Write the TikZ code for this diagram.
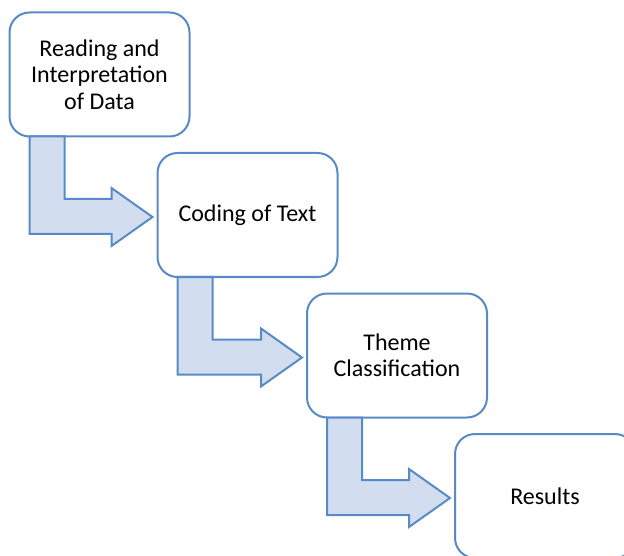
\documentclass[tikz,border=0pt]{standalone}
\usepackage{fontspec}
\setmainfont{Carlito}
\usetikzlibrary{calc}
\definecolor{boxblue}{RGB}{88,138,198}
\definecolor{arrowfill}{RGB}{210,222,239}
\tikzset{
  stagebox/.style={draw=boxblue, line width=2pt, fill=white, rounded corners=20pt,
    minimum width=180pt, minimum height=124pt, align=center, inner sep=0pt,
    font=\fontsize{24}{26.5}\selectfont, text=black},
  bentarrow/.style={draw=boxblue, line width=2pt, fill=arrowfill, line join=miter}
}
\newcommand{\bentarr}[2]{%
  \draw[bentarrow] ($(#1.south west)+(21,-1)$) |- ($(#2.north west)+(-45,82)$)
    -- ($(#2.north west)+(-45,94)$) -- ($(#2.north west)+(-4,65)$)
    -- ($(#2.north west)+(-45,36)$) -- ($(#2.north west)+(-45,47)$)
    -| ($(#1.south west)+(56,-1)$) -- cycle;}
\begin{document}
\begin{tikzpicture}[x=1pt,y=-1pt]
\useasboundingbox (0,0) rectangle (624,556);
\clip (0,0) rectangle (624,556);
\node[stagebox] (b1) at (99.5,74.5) {Reading and\\Interpretation\\of Data};
\node[stagebox] (b2) at (247.5,215) {Coding of Text};
\node[stagebox] (b3) at (397,355.5) {Theme\\Classification};
\node[stagebox] (b4) at (545,496) {Results};
\bentarr{b1}{b2}
\bentarr{b2}{b3}
\bentarr{b3}{b4}
\end{tikzpicture}
\end{document}
